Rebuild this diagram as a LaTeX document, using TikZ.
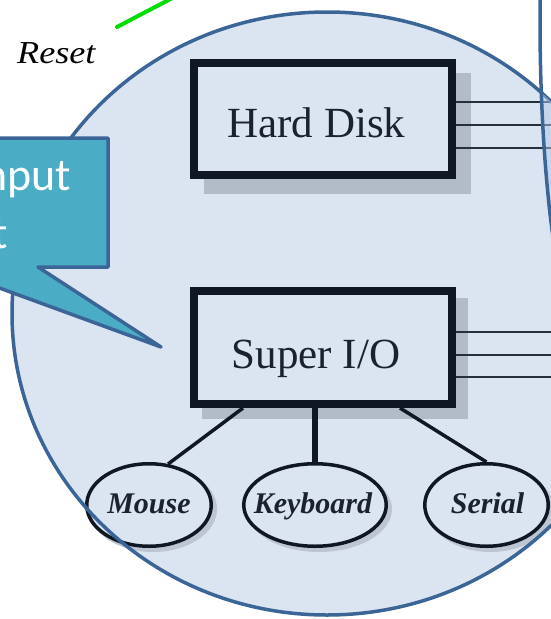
\documentclass[tikz,border=0pt]{standalone}
\usepackage{fontspec}
\setmainfont{Liberation Serif}
\newfontfamily\calib{Carlito}
\usetikzlibrary{shapes.geometric,calc}
\definecolor{circfill}{HTML}{DBE4F1}
\definecolor{circline}{HTML}{3B6597}
\definecolor{calfill}{HTML}{4BACC6}
\definecolor{boxline}{HTML}{0F1822}
\definecolor{txtcol}{HTML}{1A2230}
\definecolor{shadowgray}{HTML}{B2BCC9}
\definecolor{eshadow}{HTML}{BCC5D1}
\definecolor{overlapcol}{HTML}{B2C6E6}
\definecolor{greenline}{HTML}{00DD00}
\definecolor{buscol}{HTML}{26303C}
\tikzset{
  box/.style={draw=boxline, line width=8pt, fill=circfill, rectangle, inner sep=0pt, minimum width=258pt, minimum height=112.5pt},
  boxtext/.style={text=txtcol, inner sep=0pt, font=\fontsize{43}{50}\selectfont},
  dev/.style={draw=boxline, line width=3.5pt, fill=circfill, ellipse, inner sep=0pt, minimum height=82.5pt},
  devtext/.style={text=txtcol, inner sep=0pt, font=\fontsize{30}{36}\selectfont\bfseries\itshape},
  bus/.style={draw=buscol, line width=2.2pt},
  link/.style={draw=boxline, line width=3.5pt},
  calltext/.style={text=white, inner sep=0pt, font=\calib\fontsize{46}{56}\selectfont}
}
\begin{document}
\begin{tikzpicture}[x=1pt,y=-1pt]
\useasboundingbox (0,0) rectangle (551,619);
\clip (0,0) rectangle (551,619);
% big circle background
\fill[circfill] (327,313.5) ellipse [x radius=315pt, y radius=301.5pt];
% box shadows
\fill[shadowgray] (204,73) rectangle (471,194);
\fill[shadowgray] (202,298) rectangle (468,419);
% ellipse shadows
\fill[eshadow] (153,509) ellipse [x radius=64pt, y radius=43pt];
\fill[eshadow] (319,509) ellipse [x radius=73pt, y radius=43pt];
\fill[eshadow] (490.5,509) ellipse [x radius=63pt, y radius=43pt];
% boxes
\node[box] (hd) at (323,119) {};
\node[box, minimum height=113pt] (sio) at (323,347.5) {};
\node[boxtext, anchor=base] (hdt) at (316.5,137) {Hard Disk};
\node[boxtext, anchor=base] (siot) at (316,368) {Super I/O};
% bus lines
\coordinate (hdr) at (560,125);
\coordinate (sior) at (560,355);
\foreach \yy in {102,125,148} \draw[bus] (hd.east |- 0,\yy) -- (hdr |- 0,\yy);
\foreach \yy in {332,355,377} \draw[bus] (sio.east |- 0,\yy) -- (sior |- 0,\yy);
% devices
\node[dev, minimum width=124.5pt] (mouse) at (149,505) {};
\node[dev, minimum width=142.5pt] (kb) at (315,505) {};
\node[dev, minimum width=123.5pt] (serial) at (486.5,505) {};
\node[devtext, anchor=base] (mouset) at (149,513) {Mouse};
\node[devtext, anchor=base] (kbt) at (313,513) {Keyboard};
\node[devtext, anchor=base] (serialt) at (487.5,513) {Serial};
% links
\draw[link] ([xshift=-80pt]sio.south) -- (mouse.65);
\draw[boxline, line width=6.5pt] (kb.north |- sio.south) -- (kb.north);
\draw[link] ([xshift=77pt]sio.south) -- (serial.north);
% circle border
\draw[circline, line width=3.5pt] (327,313.5) ellipse [x radius=315pt, y radius=301.5pt];
% right shape overlap
\begin{scope}
  \clip (327,313.5) ellipse [x radius=315pt, y radius=301.5pt];
  \fill[overlapcol, fill opacity=0.5] (600,20) ellipse [x radius=60pt, y radius=350pt];
\end{scope}
\draw[circline, line width=3.5pt] (600,20) ellipse [x radius=60pt, y radius=350pt];
% callout
\draw[circline, fill=calfill, line width=3.5pt, line join=round]
  (-120,138) -- (108,138) -- (108,267) -- (38,267) -- (161,347) -- (-58,267) -- (-120,267) -- cycle;
\node[calltext, anchor=base east] (c1) at (71.5,190) {nput};
\node[calltext, anchor=base east] (c2) at (8,248) {t};
% reset
\node[anchor=base west, inner sep=0pt, xscale=1.13, font=\fontsize{32}{40}\selectfont\itshape, text=black] (reset) at (17,63) {Reset};
\coordinate (g1) at (117,27);
\coordinate (g2) at (180,-6);
\draw[greenline, line width=4pt, line cap=round] (g1) -- (g2);
\end{tikzpicture}
\end{document}
